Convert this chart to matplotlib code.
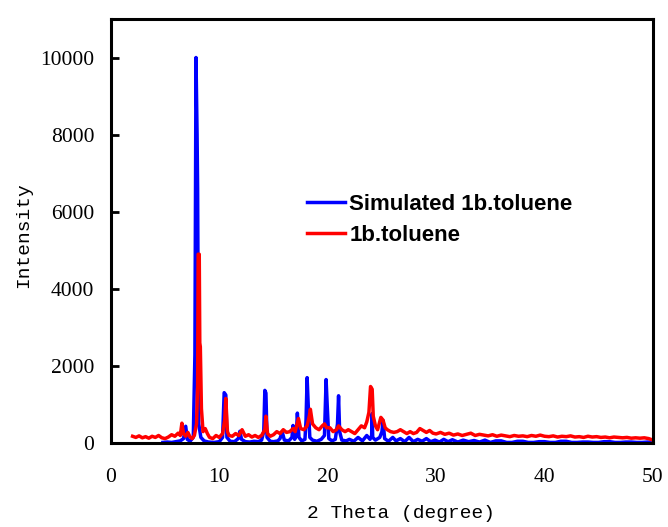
import matplotlib
matplotlib.use("Agg")
import matplotlib.pyplot as plt

# Simulated 1b.toluene (blue)
sim_x = [4.8, 5.2, 5.6, 6.0, 6.4, 6.7, 6.9, 7.05, 7.3, 7.6, 7.75, 7.85, 7.95, 8.0, 8.1, 8.3, 8.6,
         9.0, 9.5, 10.0, 10.3, 10.45, 10.6, 10.7, 11.0, 11.4, 11.75, 11.9, 12.05, 12.4, 12.8,
         13.2, 13.6, 13.9, 14.1, 14.2, 14.3, 14.4, 14.7, 15.0, 15.4, 15.6, 15.8, 16.0, 16.4,
         16.7, 16.8, 16.95, 17.1, 17.2, 17.35, 17.6, 17.9, 18.0, 18.1, 18.2, 18.35, 18.6, 19.0,
         19.4, 19.7, 19.85, 19.95, 20.1, 20.4, 20.7, 20.9, 21.0, 21.1, 21.3, 21.7, 22.0, 22.4,
         22.8, 23.2, 23.6, 23.9, 24.05, 24.1, 24.15, 24.4, 24.8, 25.0, 25.1, 25.25, 25.6, 26.0,
         26.3, 26.7, 27.1, 27.5, 27.9, 28.3, 28.7, 29.1, 29.5, 29.9, 30.3, 30.7, 31.1, 31.5,
         32.0, 32.5, 33.0, 33.5, 34.0, 34.5, 35.0, 35.5, 36.0, 36.5, 37.0, 37.5, 38.0, 38.5,
         39.0, 39.5, 40.0, 40.5, 41.0, 41.5, 42.0, 42.5, 43.0, 43.5, 44.0, 44.5, 45.0, 45.5,
         46.0, 46.5, 47.0, 47.5, 48.0, 48.5, 49.0, 49.5, 50.0]
sim_y = [20, 30, 20, 40, 60, 120, 440, 100, 50, 150, 2300, 10000, 8000, 6600, 500, 150, 60,
         30, 20, 40, 150, 1310, 1250, 150, 50, 40, 120, 310, 100, 40, 30,
         50, 40, 80, 300, 1370, 1300, 150, 50, 40, 60, 120, 300, 80, 60,
         150, 460, 100, 200, 780, 150, 60, 100, 600, 1700, 1000, 150, 80, 50,
         100, 200, 1650, 1000, 120, 60, 100, 500, 1230, 300, 80, 60, 100, 50,
         150, 60, 200, 100, 200, 770, 150, 80, 150, 300, 590, 120, 50, 150,
         60, 120, 40, 150, 40, 100, 50, 120, 40, 80, 30, 100, 40, 90,
         30, 80, 40, 70, 30, 80, 20, 60, 60, 20, 20, 50, 50, 20,
         20, 40, 40, 20, 20, 50, 50, 20, 20, 30, 30, 20, 20, 40,
         40, 20, 20, 30, 30, 20, 20, 30, 20]

# Experimental 1b.toluene (red)
exp_x = [2.0, 2.3, 2.6, 2.9, 3.2, 3.5, 3.8, 4.1, 4.4, 4.7, 5.0, 5.3, 5.6, 5.9, 6.2, 6.4, 6.55,
         6.7, 6.9, 7.1, 7.3, 7.5, 7.7, 7.9, 8.0, 8.05, 8.15, 8.2, 8.25, 8.35, 8.5, 8.7, 8.9,
         9.1, 9.4, 9.7, 10.0, 10.3, 10.5, 10.6, 10.75, 10.9, 11.2, 11.5, 11.8, 12.1, 12.4,
         12.7, 13.0, 13.3, 13.6, 13.9, 14.2, 14.3, 14.45, 14.7, 15.0, 15.3, 15.6, 15.9, 16.2,
         16.5, 16.8, 17.0, 17.3, 17.5, 17.8, 18.1, 18.3, 18.4, 18.6, 18.9, 19.2, 19.5, 19.7,
         19.9, 20.2, 20.5, 20.8, 21.0, 21.3, 21.6, 21.9, 22.2, 22.5, 22.8, 23.1, 23.4, 23.6,
         23.8, 23.95, 24.1, 24.2, 24.4, 24.6, 24.9, 25.1, 25.3, 25.5, 25.8, 26.1, 26.4, 26.7,
         27.0, 27.3, 27.6, 27.9, 28.2, 28.5, 28.8, 29.1, 29.4, 29.7, 30.0, 30.4, 30.8, 31.2,
         31.6, 32.0, 32.4, 32.8, 33.2, 33.6, 34.0, 34.4, 34.8, 35.2, 35.6, 36.0, 36.4, 36.8,
         37.2, 37.6, 38.0, 38.4, 38.8, 39.2, 39.6, 40.0, 40.4, 40.8, 41.2, 41.6, 42.0, 42.4,
         42.8, 43.2, 43.6, 44.0, 44.4, 44.8, 45.2, 45.6, 46.0, 46.4, 46.8, 47.2, 47.6, 48.0,
         48.4, 48.8, 49.2, 49.6, 50.0]
exp_y = [180, 150, 190, 140, 170, 130, 180, 150, 200, 140, 120, 160, 220, 180, 260, 200, 520,
         250, 180, 280, 160, 120, 200, 500, 1500, 4900, 4900, 2600, 2500, 900, 300, 380, 250,
         150, 120, 200, 150, 250, 600, 1160, 300, 200, 180, 250, 200, 350, 180,
         220, 160, 200, 150, 200, 350, 700, 250, 180, 220, 300, 250, 350, 280,
         300, 380, 300, 640, 380, 350, 450, 700, 880, 500, 400, 350, 450, 500,
         400, 400, 300, 350, 450, 350, 300, 350, 300, 250, 350, 450, 400, 550,
         800, 1470, 1400, 700, 450, 350, 670, 600, 400, 350, 300, 280, 300, 350,
         300, 250, 300, 250, 280, 380, 330, 280, 330, 260, 240, 280, 230, 260,
         210, 240, 200, 230, 260, 200, 230, 210, 190, 220, 180, 210, 190, 170,
         200, 180, 190, 170, 200, 180, 210, 180, 170, 190, 160, 180, 170, 190,
         160, 170, 150, 180, 160, 170, 150, 160, 140, 160, 150, 140, 150, 130,
         140, 130, 140, 120, 80]

x_ticks = [0, 10, 20, 30, 40, 50]
y_ticks = [0, 2000, 4000, 6000, 8000, 10000]

fig = plt.figure(figsize=(6.68, 5.27), dpi=100)
ax = fig.add_axes([0.166, 0.159, 0.8115, 0.805])

ax.plot(sim_x, sim_y, color="#0000ff", lw=2.5, label="Simulated 1b.toluene")
ax.plot(exp_x, exp_y, color="#ff0000", lw=2.5, label="1b.toluene")

ax.set_xlim(0, 50)
ax.set_ylim(0, 11000)
ax.set_xticks(x_ticks)
ax.set_yticks(y_ticks)

for s in ax.spines.values():
    s.set_linewidth(2.2)
    s.set_color("black")

ax.tick_params(axis="y", direction="in", length=6, width=2, pad=12,
               labelsize=15.5, right=False)
ax.tick_params(axis="x", direction="in", length=0, width=2, pad=18,
               labelsize=15.5, top=False)
for lab in ax.get_xticklabels() + ax.get_yticklabels():
    lab.set_fontfamily("Liberation Serif")

ax.set_xlabel("2 Theta (degree)", fontsize=14, family="Liberation Mono")
ax.xaxis.set_label_coords(0.535, -0.145)
ax.set_ylabel("Intensity", fontsize=14, family="Liberation Mono")
ax.yaxis.set_label_coords(-0.146, 0.49)

leg = ax.legend(loc="upper left", bbox_to_anchor=(0.362, 0.587), frameon=False,
                prop={"family": "Liberation Sans", "weight": "bold", "size": 16},
                handlelength=1.7, handletextpad=0.2, labelspacing=0.45,
                borderaxespad=0, borderpad=0)

fig.savefig("out.png", dpi=100)
